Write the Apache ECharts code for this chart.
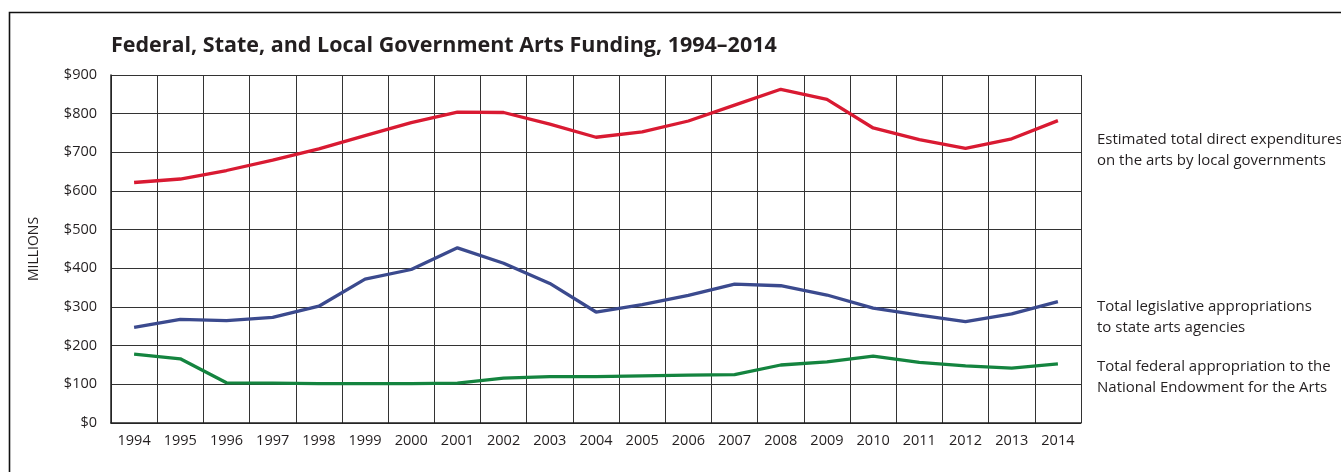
<!DOCTYPE html>
<html>
<head>
<meta charset="utf-8">
<script src="https://cdn.jsdelivr.net/npm/echarts@6/dist/echarts.min.js"></script>
<style>
html,body{margin:0;padding:0;background:#fff;}
#chart{width:1341px;height:472px;}
</style>
</head>
<body>
<div id="chart"></div>
<script>
const years = ['1994','1995','1996','1997','1998','1999','2000','2001','2002','2003','2004','2005','2006','2007','2008','2009','2010','2011','2012','2013','2014'];
const localGov = [622,631,653,680,709,743,777,804,803,773,739,753,781,822,863,837,763,733,710,735,782];
const stateLeg = [247,268,265,273,302,372,397,453,413,361,287,306,330,359,355,331,297,279,262,282,314];
const federalNEA = [178,166,104,103,102,102,102,103,116,120,120,122,124,125,150,158,173,157,148,142,153];
const yTicks = [0,100,200,300,400,500,600,700,800,900];
const titleText = 'Federal, State, and Local Government Arts Funding, 1994\u20132014';
const labelLocal = 'Estimated total direct expenditures\non the arts by local governments';
const labelState = 'Total legislative appropriations\nto state arts agencies';
const labelFed = 'Total federal appropriation to the\nNational Endowment for the Arts';

const chart = echarts.init(document.getElementById('chart'));
const txt = '#231f20';
const gridColor = '#333333';
const font = '"Open Sans", sans-serif';

chart.setOption({
  animation: false,
  backgroundColor: '#fff',
  grid: {left: 111, right: 260, top: 75, bottom: 49},
  xAxis: {
    type: 'category',
    data: years,
    boundaryGap: true,
    axisLine: {show: true, lineStyle: {color: '#222', width: 1.5}},
    axisTick: {show: false},
    axisLabel: {color: txt, fontSize: 14.5, fontFamily: font, margin: 10, interval: 0},
    splitLine: {show: true, interval: 0, lineStyle: {color: gridColor, width: 1}}
  },
  yAxis: {
    type: 'value',
    min: yTicks[0],
    max: yTicks[yTicks.length - 1],
    interval: 100,
    axisLine: {show: true, lineStyle: {color: '#222', width: 1.5}},
    axisTick: {show: false},
    axisLabel: {color: txt, fontSize: 14.5, fontFamily: font, margin: 14, formatter: v => '$' + v},
    splitLine: {show: true, lineStyle: {color: gridColor, width: 1}}
  },
  series: [
    {type: 'line', data: localGov, symbol: 'none', lineStyle: {color: '#d91a32', width: 3.3}},
    {type: 'line', data: stateLeg, symbol: 'none', lineStyle: {color: '#3b4a8e', width: 3.3}},
    {type: 'line', data: federalNEA, symbol: 'none', lineStyle: {color: '#14843f', width: 3.3}}
  ],
  graphic: [
    {type: 'rect', shape: {x: 9.5, y: 12.5, width: 1400, height: 600}, style: {fill: 'none', stroke: '#111', lineWidth: 1.6}, silent: true},
    {type: 'text', x: 111, y: 46, style: {text: titleText, fontSize: 21.5, fontWeight: 'bold', fontFamily: font, fill: '#231f20', verticalAlign: 'middle'}},
    {type: 'text', x: 34, y: 249, rotation: Math.PI / 2, style: {text: 'MILLIONS', fontSize: 14, fontFamily: font, fill: txt, align: 'center', verticalAlign: 'middle'}},
    {type: 'text', x: 1097, y: 129, style: {text: labelLocal, fontSize: 15, lineHeight: 21, fontFamily: font, fill: txt}},
    {type: 'text', x: 1097, y: 296, style: {text: labelState, fontSize: 15, lineHeight: 21, fontFamily: font, fill: txt}},
    {type: 'text', x: 1097, y: 356, style: {text: labelFed, fontSize: 15, lineHeight: 21, fontFamily: font, fill: txt}}
  ]
});
</script>
</body>
</html>
